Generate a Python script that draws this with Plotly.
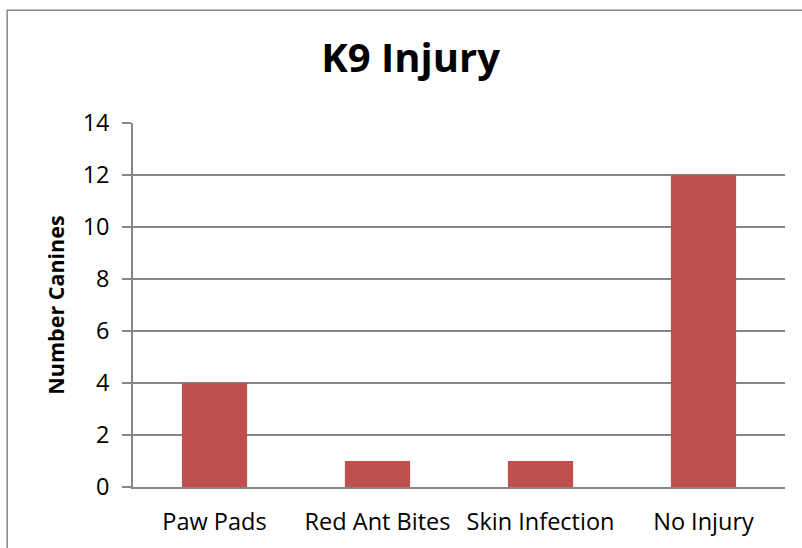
import plotly.graph_objects as go

categories = ["Paw Pads", "Red Ant Bites", "Skin Infection", "No Injury"]
canines = [4, 1, 1, 12]

BAR = "#C0504D"
GRID = "#868686"
FONT = "Open Sans"

fig = go.Figure(go.Bar(x=categories, y=canines, marker_color=BAR, marker_line_width=0))

fig.update_layout(
    width=802, height=548,
    margin=dict(l=133, r=17, t=123, b=61),
    plot_bgcolor="white", paper_bgcolor="white",
    bargap=0.6,
    showlegend=False,
    font=dict(family=FONT, color="#000000", size=23.5),
    title=dict(text="<b>K9 Injury</b>", x=0.512, xanchor="center", y=0.895, yanchor="middle",
               font=dict(family=FONT, size=40, color="#000000")),
)
fig.update_yaxes(
    range=[0, 14], dtick=2, showgrid=True, gridcolor=GRID, gridwidth=1.5,
    showline=True, linecolor=GRID, linewidth=1.5, zeroline=False,
    ticks="outside", ticklen=9, tickcolor=GRID, tickwidth=1.5,
    ticklabelstandoff=8,
    title=dict(text="<b>Number Canines</b>", font=dict(family=FONT, size=21.5), standoff=12),
)
fig.update_xaxes(
    showline=True, linecolor=GRID, linewidth=1.5, ticks="", showgrid=False,
    ticklabelstandoff=13,
)
# outer chart border
fig.add_shape(type="rect", xref="paper", yref="paper", x0=-0.193, x1=1.3, y0=-0.5, y1=1.31,
              line=dict(color=GRID, width=1.5), fillcolor="rgba(0,0,0,0)", layer="above")

fig.write_html("out.html", config={"displayModeBar": False},
               post_script="document.body.style.margin='0';")
